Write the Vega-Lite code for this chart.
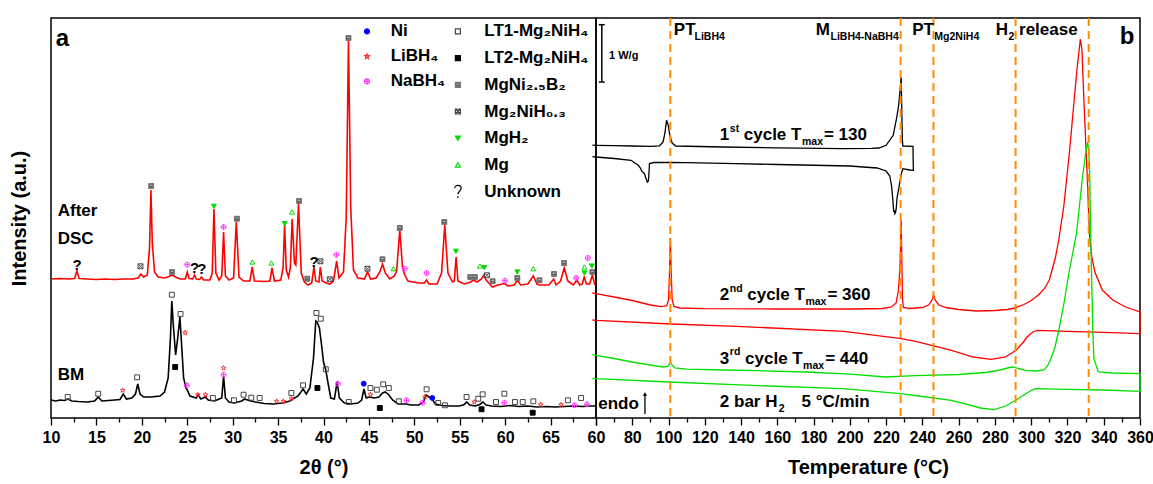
{
"$schema": "https://vega.github.io/schema/vega-lite/v6.json",
"padding": {"left": 8, "top": 16, "right": 0, "bottom": 0},
"background": "white",
"bounds": "flush",
"spacing": 0,
"config": {
 "font": "Liberation Sans",
 "view": {"stroke": "black", "strokeWidth": 1.5},
 "axis": {"grid": false, "domain": false, "labelFont": "Liberation Sans", "labelFontSize": 16, "labelFontWeight": "bold", "labelColor": "black", "labelFlush": false, "labelOverlap": false, "labelBound": false, "titleFont": "Liberation Sans", "titleFontSize": 20, "titleFontWeight": "bold", "titleColor": "black", "tickColor": "black", "tickWidth": 1.3, "tickSize": 7, "labelPadding": 4, "titlePadding": 12},
 "legend": {"padding": 0, "labelFont": "Liberation Sans", "labelFontSize": 17, "labelFontWeight": "bold", "labelColor": "black", "symbolSize": 25, "symbolStrokeWidth": 1.2}
},
"datasets": {
 "xrdA": [
{"t":10,"v":139},{"t":11,"v":139.5},{"t":12,"v":139},{"t":12.6,"v":139.5},{"t":12.85,"v":147},{"t":13.1,"v":139.5},{"t":14,"v":139},{"t":15,"v":138.5},{"t":16,"v":139},{"t":17,"v":138.5},{"t":18,"v":139},{"t":19,"v":139},{"t":19.6,"v":140},{"t":19.9,"v":144},{"t":20.2,"v":141},{"t":20.6,"v":143},{"t":20.85,"v":170},{"t":21.0,"v":228},{"t":21.15,"v":175},{"t":21.4,"v":146},{"t":21.8,"v":141},{"t":22.5,"v":140},{"t":23.0,"v":141.5},{"t":23.35,"v":143},{"t":23.7,"v":141},{"t":24.2,"v":139},{"t":24.8,"v":139},{"t":25.0,"v":146},{"t":25.2,"v":139.5},{"t":25.6,"v":139},{"t":25.8,"v":143},{"t":26.0,"v":139},{"t":26.35,"v":138.5},{"t":26.55,"v":141},{"t":26.8,"v":138},{"t":27.5,"v":138},{"t":27.75,"v":145},{"t":27.94,"v":209},{"t":28.15,"v":145},{"t":28.5,"v":138},{"t":28.8,"v":142},{"t":29.0,"v":186},{"t":29.2,"v":142},{"t":29.6,"v":138},{"t":30.1,"v":140},{"t":30.4,"v":196},{"t":30.7,"v":141},{"t":31.2,"v":137},{"t":31.9,"v":137},{"t":32.15,"v":151},{"t":32.4,"v":137},{"t":33.5,"v":136.5},{"t":34.1,"v":137},{"t":34.33,"v":150},{"t":34.6,"v":137},{"t":35.3,"v":138},{"t":35.55,"v":150},{"t":35.72,"v":193},{"t":35.9,"v":148},{"t":36.15,"v":141},{"t":36.35,"v":150},{"t":36.55,"v":199},{"t":36.8,"v":155},{"t":36.95,"v":153},{"t":37.25,"v":214},{"t":37.55,"v":145},{"t":37.9,"v":136},{"t":38.3,"v":133},{"t":38.7,"v":135},{"t":38.95,"v":151},{"t":39.15,"v":137},{"t":39.5,"v":136},{"t":39.65,"v":151},{"t":39.85,"v":137},{"t":40.3,"v":135},{"t":40.7,"v":134},{"t":41.1,"v":137},{"t":41.45,"v":157},{"t":41.7,"v":140},{"t":42.2,"v":146},{"t":42.5,"v":200},{"t":42.75,"v":377},{"t":43.0,"v":210},{"t":43.3,"v":148},{"t":43.8,"v":140},{"t":44.5,"v":139},{"t":44.85,"v":146},{"t":45.2,"v":139},{"t":45.8,"v":140},{"t":46.2,"v":146},{"t":46.5,"v":154},{"t":46.8,"v":145},{"t":47.3,"v":139},{"t":47.8,"v":142},{"t":48.05,"v":147},{"t":48.4,"v":188},{"t":48.7,"v":150},{"t":48.95,"v":143},{"t":49.3,"v":137},{"t":50.5,"v":135},{"t":51.1,"v":135},{"t":51.35,"v":138},{"t":51.6,"v":134},{"t":52.5,"v":134},{"t":53.0,"v":145},{"t":53.35,"v":193},{"t":53.7,"v":145},{"t":54.2,"v":136},{"t":54.4,"v":137},{"t":54.6,"v":161},{"t":54.8,"v":137},{"t":55.5,"v":134},{"t":56.2,"v":136},{"t":56.5,"v":138},{"t":56.9,"v":136},{"t":57.4,"v":139},{"t":57.66,"v":143},{"t":57.9,"v":138},{"t":58.3,"v":134},{"t":58.6,"v":131},{"t":59.2,"v":133},{"t":59.95,"v":134.5},{"t":60.3,"v":132},{"t":61.0,"v":133},{"t":61.35,"v":138},{"t":61.7,"v":133},{"t":62.5,"v":134},{"t":63.1,"v":142},{"t":63.5,"v":134},{"t":63.8,"v":133},{"t":64.8,"v":133},{"t":65.35,"v":139},{"t":65.6,"v":133},{"t":66.1,"v":137},{"t":66.5,"v":150},{"t":66.9,"v":137},{"t":67.5,"v":133},{"t":67.9,"v":138},{"t":68.2,"v":133},{"t":68.5,"v":134},{"t":68.7,"v":141},{"t":68.95,"v":134},{"t":69.3,"v":134},{"t":69.6,"v":143},{"t":69.85,"v":134},{"t":70,"v":133}
 ],
 "xrdB": [
{"t":10,"v":18},{"t":10.5,"v":17},{"t":11,"v":18},{"t":11.5,"v":17.5},{"t":11.85,"v":19},{"t":12.3,"v":17},{"t":13,"v":16.5},{"t":14,"v":16},{"t":14.8,"v":17},{"t":15.2,"v":21},{"t":15.6,"v":17},{"t":16.3,"v":17.5},{"t":17,"v":18},{"t":17.6,"v":18.5},{"t":17.95,"v":24},{"t":18.3,"v":19},{"t":18.9,"v":20},{"t":19.3,"v":24},{"t":19.55,"v":34},{"t":19.8,"v":24},{"t":20.2,"v":21},{"t":21,"v":21},{"t":22,"v":22},{"t":22.5,"v":26},{"t":22.9,"v":40},{"t":23.15,"v":80},{"t":23.3,"v":117},{"t":23.45,"v":95},{"t":23.72,"v":63},{"t":23.95,"v":80},{"t":24.19,"v":101},{"t":24.4,"v":70},{"t":24.6,"v":40},{"t":24.85,"v":30},{"t":25.0,"v":28},{"t":25.3,"v":22},{"t":26.0,"v":20},{"t":26.2,"v":23},{"t":26.5,"v":19},{"t":27.0,"v":21},{"t":27.3,"v":18},{"t":28,"v":17},{"t":28.8,"v":20},{"t":29.0,"v":42},{"t":29.2,"v":20},{"t":29.6,"v":16},{"t":30.2,"v":15},{"t":31,"v":17},{"t":31.3,"v":19},{"t":31.8,"v":17.5},{"t":32.5,"v":16},{"t":33.5,"v":14.5},{"t":34.5,"v":14},{"t":35.5,"v":15},{"t":36.3,"v":17},{"t":36.6,"v":19},{"t":37.2,"v":22},{"t":37.75,"v":29},{"t":38.1,"v":24},{"t":38.5,"v":30},{"t":38.9,"v":60},{"t":39.15,"v":97},{"t":39.3,"v":96},{"t":39.55,"v":90},{"t":39.8,"v":72},{"t":40.0,"v":56},{"t":40.25,"v":48},{"t":40.5,"v":35},{"t":40.8,"v":20},{"t":41.2,"v":19},{"t":41.5,"v":36},{"t":41.75,"v":20},{"t":42.3,"v":15},{"t":43,"v":14},{"t":43.8,"v":15},{"t":44.2,"v":18},{"t":44.45,"v":29},{"t":44.7,"v":20},{"t":45.0,"v":21},{"t":45.6,"v":20},{"t":46.1,"v":21},{"t":46.5,"v":25},{"t":46.8,"v":26},{"t":47.2,"v":23},{"t":47.6,"v":18},{"t":48.2,"v":14},{"t":49.1,"v":14},{"t":49.6,"v":13},{"t":50.5,"v":13},{"t":51.0,"v":16},{"t":51.3,"v":23},{"t":51.6,"v":21},{"t":51.9,"v":20},{"t":52.3,"v":14},{"t":53,"v":12.5},{"t":54,"v":12},{"t":55,"v":12},{"t":55.5,"v":13.5},{"t":55.75,"v":16},{"t":56.1,"v":13},{"t":56.7,"v":12},{"t":57.2,"v":13.5},{"t":57.55,"v":16},{"t":57.9,"v":13},{"t":58.5,"v":12},{"t":59.5,"v":11.5},{"t":60.5,"v":12.5},{"t":61.5,"v":11.5},{"t":62.5,"v":12},{"t":63.5,"v":11},{"t":64.5,"v":11.5},{"t":65.5,"v":11},{"t":66.5,"v":11.5},{"t":67.5,"v":12},{"t":68.5,"v":11.5},{"t":69.5,"v":12},{"t":70,"v":12}
 ],
 "marks": [
{"t":12.87,"v":153.3,"p":"Unknown"},{"t":25.8,"v":150.3,"p":"Unknown"},{"t":26.6,"v":148.7,"p":"Unknown"},{"t":38.96,"v":156,"p":"Unknown"},
{"t":19.85,"v":151.7,"p":"Mg₂NiH₀.₃"},{"t":39.66,"v":156.7,"p":"Mg₂NiH₀.₃"},{"t":40.69,"v":138.7,"p":"Mg₂NiH₀.₃"},{"t":44.84,"v":149.3,"p":"Mg₂NiH₀.₃"},{"t":57.99,"v":142.7,"p":"Mg₂NiH₀.₃"},
{"t":21.03,"v":232,"p":"MgNi₂.₅B₂"},{"t":23.34,"v":146,"p":"MgNi₂.₅B₂"},{"t":30.47,"v":199.3,"p":"MgNi₂.₅B₂"},{"t":37.31,"v":217,"p":"MgNi₂.₅B₂"},{"t":38.22,"v":139.3,"p":"MgNi₂.₅B₂"},{"t":42.75,"v":380,"p":"MgNi₂.₅B₂"},{"t":46.49,"v":158.7,"p":"MgNi₂.₅B₂"},{"t":48.4,"v":190,"p":"MgNi₂.₅B₂"},{"t":53.3,"v":196,"p":"MgNi₂.₅B₂"},{"t":56.16,"v":141,"p":"MgNi₂.₅B₂"},{"t":56.67,"v":141,"p":"MgNi₂.₅B₂"},{"t":58.62,"v":136.7,"p":"MgNi₂.₅B₂"},{"t":61.34,"v":140,"p":"MgNi₂.₅B₂"},{"t":63.77,"v":137.7,"p":"MgNi₂.₅B₂"},{"t":65.38,"v":144,"p":"MgNi₂.₅B₂"},{"t":66.49,"v":155,"p":"MgNi₂.₅B₂"},{"t":69.6,"v":146,"p":"MgNi₂.₅B₂"},
{"t":25.0,"v":153.3,"p":"NaBH₄"},{"t":29.0,"v":191,"p":"NaBH₄"},{"t":41.42,"v":163.3,"p":"NaBH₄"},{"t":48.95,"v":149.3,"p":"NaBH₄"},{"t":51.35,"v":145,"p":"NaBH₄"},{"t":59.98,"v":137.3,"p":"NaBH₄"},{"t":67.81,"v":140,"p":"NaBH₄"},{"t":69.1,"v":160,"p":"NaBH₄"},
{"t":27.94,"v":211.7,"p":"MgH₂"},{"t":35.73,"v":194.3,"p":"MgH₂"},{"t":54.58,"v":166.7,"p":"MgH₂"},{"t":57.7,"v":150.3,"p":"MgH₂"},{"t":61.34,"v":146,"p":"MgH₂"},{"t":68.73,"v":145,"p":"MgH₂"},{"t":69.54,"v":152,"p":"MgH₂"},
{"t":32.16,"v":156,"p":"Mg"},{"t":34.26,"v":155,"p":"Mg"},{"t":36.54,"v":206,"p":"Mg"},{"t":47.71,"v":149.3,"p":"Mg"},{"t":57.22,"v":152,"p":"Mg"},{"t":63.1,"v":149.3,"p":"Mg"},{"t":68.73,"v":151,"p":"Mg"},
{"t":11.84,"v":21,"p":"LT1-Mg₂NiH₄"},{"t":15.2,"v":24.3,"p":"LT1-Mg₂NiH₄"},{"t":19.48,"v":40.7,"p":"LT1-Mg₂NiH₄"},{"t":23.3,"v":123.3,"p":"LT1-Mg₂NiH₄"},{"t":24.26,"v":104,"p":"LT1-Mg₂NiH₄"},{"t":27.83,"v":20,"p":"LT1-Mg₂NiH₄"},{"t":30.14,"v":17.7,"p":"LT1-Mg₂NiH₄"},{"t":31.2,"v":23.3,"p":"LT1-Mg₂NiH₄"},{"t":32.05,"v":20.3,"p":"LT1-Mg₂NiH₄"},{"t":32.97,"v":20,"p":"LT1-Mg₂NiH₄"},{"t":36.46,"v":25,"p":"LT1-Mg₂NiH₄"},{"t":37.75,"v":32.7,"p":"LT1-Mg₂NiH₄"},{"t":39.22,"v":105,"p":"LT1-Mg₂NiH₄"},{"t":39.7,"v":99.3,"p":"LT1-Mg₂NiH₄"},{"t":40.25,"v":48.7,"p":"LT1-Mg₂NiH₄"},{"t":42.78,"v":16,"p":"LT1-Mg₂NiH₄"},{"t":45.17,"v":30,"p":"LT1-Mg₂NiH₄"},{"t":45.87,"v":28.3,"p":"LT1-Mg₂NiH₄"},{"t":46.57,"v":33.7,"p":"LT1-Mg₂NiH₄"},{"t":47.19,"v":30,"p":"LT1-Mg₂NiH₄"},{"t":48.29,"v":16.7,"p":"LT1-Mg₂NiH₄"},{"t":51.35,"v":28.7,"p":"LT1-Mg₂NiH₄"},{"t":52.63,"v":15,"p":"LT1-Mg₂NiH₄"},{"t":53.37,"v":12.7,"p":"LT1-Mg₂NiH₄"},{"t":55.75,"v":21,"p":"LT1-Mg₂NiH₄"},{"t":57.04,"v":19.3,"p":"LT1-Mg₂NiH₄"},{"t":57.52,"v":23.7,"p":"LT1-Mg₂NiH₄"},{"t":58.99,"v":16,"p":"LT1-Mg₂NiH₄"},{"t":59.91,"v":24.3,"p":"LT1-Mg₂NiH₄"},{"t":61.08,"v":16,"p":"LT1-Mg₂NiH₄"},{"t":61.93,"v":16,"p":"LT1-Mg₂NiH₄"},{"t":63.1,"v":16.7,"p":"LT1-Mg₂NiH₄"},{"t":66.9,"v":17.7,"p":"LT1-Mg₂NiH₄"},{"t":68.36,"v":20,"p":"LT1-Mg₂NiH₄"},
{"t":17.9,"v":27.7,"p":"LiBH₄"},{"t":24.77,"v":85.3,"p":"LiBH₄"},{"t":26.17,"v":23.3,"p":"LiBH₄"},{"t":27.0,"v":23.3,"p":"LiBH₄"},{"t":29.0,"v":50,"p":"LiBH₄"},{"t":34.84,"v":16.7,"p":"LiBH₄"},{"t":35.58,"v":16.7,"p":"LiBH₄"},{"t":36.46,"v":19.3,"p":"LiBH₄"},{"t":45.17,"v":23.3,"p":"LiBH₄"},{"t":51.16,"v":21,"p":"LiBH₄"},{"t":56.6,"v":16,"p":"LiBH₄"},{"t":63.92,"v":13.3,"p":"LiBH₄"},{"t":66.16,"v":13.3,"p":"LiBH₄"},
{"t":23.67,"v":51,"p":"LT2-Mg₂NiH₄"},{"t":39.33,"v":30,"p":"LT2-Mg₂NiH₄"},{"t":46.2,"v":10,"p":"LT2-Mg₂NiH₄"},{"t":57.4,"v":8.7,"p":"LT2-Mg₂NiH₄"},{"t":63.03,"v":5.3,"p":"LT2-Mg₂NiH₄"},
{"t":24.96,"v":32.7,"p":"NaBH₄"},{"t":29.0,"v":43.3,"p":"NaBH₄"},{"t":41.6,"v":34.3,"p":"NaBH₄"},{"t":49.14,"v":17.7,"p":"NaBH₄"},{"t":50.9,"v":15.3,"p":"NaBH₄"},{"t":59.91,"v":15.3,"p":"NaBH₄"},{"t":67.63,"v":12.7,"p":"NaBH₄"},{"t":69.02,"v":13.7,"p":"NaBH₄"},
{"t":44.43,"v":34.3,"p":"Ni"},{"t":51.97,"v":20,"p":"Ni"}
 ],
 "ltext": [
{"t":10.53,"v":379.3,"txt":"a","k":"big"},
{"t":10.74,"v":206.7,"txt":"After","k":"main"},
{"t":10.74,"v":179.3,"txt":"DSC","k":"main"},
{"t":10.74,"v":42.7,"txt":"BM","k":"main"}
 ],
 "dsc": [
{"s":"c1","i":0,"T":58,"v":272.8},{"s":"c1","i":1,"T":60,"v":272.7},{"s":"c1","i":2,"T":70,"v":272.3},{"s":"c1","i":3,"T":80,"v":272},{"s":"c1","i":4,"T":90,"v":271.6},{"s":"c1","i":5,"T":95,"v":272.2},{"s":"c1","i":6,"T":97,"v":276},{"s":"c1","i":7,"T":98,"v":285},{"s":"c1","i":8,"T":98.9,"v":297.7},{"s":"c1","i":9,"T":99.8,"v":293},{"s":"c1","i":10,"T":100.8,"v":282},{"s":"c1","i":11,"T":102,"v":275},{"s":"c1","i":12,"T":104,"v":272},{"s":"c1","i":13,"T":130,"v":271},{"s":"c1","i":14,"T":160,"v":270.2},{"s":"c1","i":15,"T":196,"v":269.3},{"s":"c1","i":16,"T":212,"v":269.6},{"s":"c1","i":17,"T":216,"v":270},{"s":"c1","i":18,"T":220,"v":272.7},{"s":"c1","i":19,"T":223.9,"v":282.7},{"s":"c1","i":20,"T":225.9,"v":301},{"s":"c1","i":21,"T":226.9,"v":312.7},{"s":"c1","i":22,"T":227.8,"v":330},{"s":"c1","i":23,"T":228.3,"v":341},{"s":"c1","i":24,"T":228.6,"v":310},{"s":"c1","i":25,"T":228.9,"v":280},{"s":"c1","i":26,"T":229.2,"v":272},{"s":"c1","i":27,"T":234.8,"v":271.7},{"s":"c1","i":28,"T":235,"v":247.7},{"s":"c1","i":29,"T":233,"v":248},{"s":"c1","i":30,"T":229.3,"v":249.3},{"s":"c1","i":31,"T":228.6,"v":246},{"s":"c1","i":32,"T":226.8,"v":228},{"s":"c1","i":33,"T":226,"v":220},{"s":"c1","i":34,"T":225.6,"v":210},{"s":"c1","i":35,"T":225.2,"v":205.5},{"s":"c1","i":36,"T":224.8,"v":204.3},{"s":"c1","i":37,"T":224.5,"v":208},{"s":"c1","i":38,"T":224.2,"v":206},{"s":"c1","i":39,"T":223.7,"v":218},{"s":"c1","i":40,"T":223,"v":232},{"s":"c1","i":41,"T":222,"v":242},{"s":"c1","i":42,"T":220,"v":247},{"s":"c1","i":43,"T":215,"v":250},{"s":"c1","i":44,"T":200,"v":252},{"s":"c1","i":45,"T":160,"v":253.5},{"s":"c1","i":46,"T":137,"v":254.3},{"s":"c1","i":47,"T":110,"v":255.3},{"s":"c1","i":48,"T":100,"v":255.7},{"s":"c1","i":49,"T":92,"v":255.5},{"s":"c1","i":50,"T":89.5,"v":254.5},{"s":"c1","i":51,"T":89.2,"v":245},{"s":"c1","i":52,"T":88.9,"v":237},{"s":"c1","i":53,"T":88.3,"v":236},{"s":"c1","i":54,"T":87.5,"v":240},{"s":"c1","i":55,"T":86.8,"v":244},{"s":"c1","i":56,"T":86.2,"v":245.5},{"s":"c1","i":57,"T":85.3,"v":246.5},{"s":"c1","i":58,"T":84.5,"v":250},{"s":"c1","i":59,"T":83.3,"v":252.7},{"s":"c1","i":60,"T":79.3,"v":257.7},{"s":"c1","i":61,"T":70,"v":259.5},{"s":"c1","i":62,"T":60,"v":261},{"s":"c1","i":63,"T":58,"v":261.3},
{"s":"c2","i":0,"T":58,"v":125},{"s":"c2","i":1,"T":60,"v":124.3},{"s":"c2","i":2,"T":70,"v":121},{"s":"c2","i":3,"T":80,"v":117.5},{"s":"c2","i":4,"T":90,"v":113},{"s":"c2","i":5,"T":96,"v":111.3},{"s":"c2","i":6,"T":99,"v":112},{"s":"c2","i":7,"T":100,"v":118},{"s":"c2","i":8,"T":100.6,"v":150},{"s":"c2","i":9,"T":101,"v":180},{"s":"c2","i":10,"T":101.4,"v":150},{"s":"c2","i":11,"T":102,"v":118},{"s":"c2","i":12,"T":103,"v":111.5},{"s":"c2","i":13,"T":106,"v":110},{"s":"c2","i":14,"T":120,"v":109.3},{"s":"c2","i":15,"T":160,"v":109},{"s":"c2","i":16,"T":200,"v":109},{"s":"c2","i":17,"T":218,"v":109.5},{"s":"c2","i":18,"T":223,"v":111},{"s":"c2","i":19,"T":225.5,"v":115},{"s":"c2","i":20,"T":226.8,"v":128},{"s":"c2","i":21,"T":227.6,"v":150},{"s":"c2","i":22,"T":228,"v":175},{"s":"c2","i":23,"T":228.3,"v":198},{"s":"c2","i":24,"T":228.6,"v":165},{"s":"c2","i":25,"T":229,"v":120},{"s":"c2","i":26,"T":229.5,"v":110.5},{"s":"c2","i":27,"T":233,"v":109.5},{"s":"c2","i":28,"T":240,"v":110.5},{"s":"c2","i":29,"T":243.5,"v":113},{"s":"c2","i":30,"T":245.3,"v":118},{"s":"c2","i":31,"T":246.1,"v":123.5},{"s":"c2","i":32,"T":247,"v":118},{"s":"c2","i":33,"T":249,"v":113},{"s":"c2","i":34,"T":253,"v":110.5},{"s":"c2","i":35,"T":260,"v":108.5},{"s":"c2","i":36,"T":270,"v":107},{"s":"c2","i":37,"T":280,"v":107.5},{"s":"c2","i":38,"T":287,"v":108.5},{"s":"c2","i":39,"T":291,"v":110},{"s":"c2","i":40,"T":296,"v":113.5},{"s":"c2","i":41,"T":300,"v":117.5},{"s":"c2","i":42,"T":304,"v":123},{"s":"c2","i":43,"T":307.3,"v":129.3},{"s":"c2","i":44,"T":310,"v":138},{"s":"c2","i":45,"T":313.3,"v":160},{"s":"c2","i":46,"T":315.2,"v":178},{"s":"c2","i":47,"T":318,"v":212},{"s":"c2","i":48,"T":321.1,"v":266},{"s":"c2","i":49,"T":325.1,"v":346},{"s":"c2","i":50,"T":327.1,"v":379},{"s":"c2","i":51,"T":328,"v":368},{"s":"c2","i":52,"T":329.1,"v":316},{"s":"c2","i":53,"T":330.7,"v":250},{"s":"c2","i":54,"T":332.2,"v":182},{"s":"c2","i":55,"T":333.5,"v":160},{"s":"c2","i":56,"T":335.1,"v":146},{"s":"c2","i":57,"T":339.2,"v":128},{"s":"c2","i":58,"T":345,"v":118},{"s":"c2","i":59,"T":352,"v":111},{"s":"c2","i":60,"T":360,"v":106},{"s":"c2","i":61,"T":360,"v":84.3},{"s":"c2","i":62,"T":340,"v":85.6},{"s":"c2","i":63,"T":320,"v":86.7},{"s":"c2","i":64,"T":303.7,"v":87.7},{"s":"c2","i":65,"T":301.5,"v":86.5},{"s":"c2","i":66,"T":299.7,"v":84.3},{"s":"c2","i":67,"T":297.5,"v":80.5},{"s":"c2","i":68,"T":295.7,"v":76},{"s":"c2","i":69,"T":291.7,"v":67.7},{"s":"c2","i":70,"T":285.8,"v":61},{"s":"c2","i":71,"T":277.9,"v":58.7},{"s":"c2","i":72,"T":268,"v":61},{"s":"c2","i":73,"T":256.1,"v":67.7},{"s":"c2","i":74,"T":236.3,"v":76.7},{"s":"c2","i":75,"T":228.4,"v":79.3},{"s":"c2","i":76,"T":196.7,"v":86.7},{"s":"c2","i":77,"T":137.3,"v":91.7},{"s":"c2","i":78,"T":101.6,"v":94},{"s":"c2","i":79,"T":60,"v":97.7},{"s":"c2","i":80,"T":58,"v":98},
{"s":"c3","i":0,"T":58,"v":63.4},{"s":"c3","i":1,"T":60,"v":62.7},{"s":"c3","i":2,"T":70,"v":59.5},{"s":"c3","i":3,"T":80,"v":56},{"s":"c3","i":4,"T":90,"v":53},{"s":"c3","i":5,"T":97,"v":51},{"s":"c3","i":6,"T":99.5,"v":51.5},{"s":"c3","i":7,"T":100.5,"v":54},{"s":"c3","i":8,"T":101.2,"v":55.5},{"s":"c3","i":9,"T":102,"v":53},{"s":"c3","i":10,"T":103.5,"v":50},{"s":"c3","i":11,"T":110,"v":48.8},{"s":"c3","i":12,"T":130,"v":48},{"s":"c3","i":13,"T":150,"v":47.3},{"s":"c3","i":14,"T":176,"v":46},{"s":"c3","i":15,"T":200,"v":43.8},{"s":"c3","i":16,"T":219.9,"v":41},{"s":"c3","i":17,"T":236,"v":42.3},{"s":"c3","i":18,"T":260,"v":43.5},{"s":"c3","i":19,"T":275,"v":45.5},{"s":"c3","i":20,"T":283,"v":48},{"s":"c3","i":21,"T":288,"v":50.5},{"s":"c3","i":22,"T":290.2,"v":51},{"s":"c3","i":23,"T":293,"v":49.5},{"s":"c3","i":24,"T":297,"v":47.7},{"s":"c3","i":25,"T":303,"v":47},{"s":"c3","i":26,"T":307,"v":48},{"s":"c3","i":27,"T":309,"v":52},{"s":"c3","i":28,"T":311,"v":60},{"s":"c3","i":29,"T":313,"v":70},{"s":"c3","i":30,"T":315,"v":86},{"s":"c3","i":31,"T":318,"v":114},{"s":"c3","i":32,"T":320.9,"v":146},{"s":"c3","i":33,"T":325,"v":185},{"s":"c3","i":34,"T":328.2,"v":239},{"s":"c3","i":35,"T":330,"v":264},{"s":"c3","i":36,"T":331.1,"v":276},{"s":"c3","i":37,"T":331.7,"v":268},{"s":"c3","i":38,"T":332.2,"v":249},{"s":"c3","i":39,"T":333,"v":166},{"s":"c3","i":40,"T":334,"v":86},{"s":"c3","i":41,"T":334.6,"v":59.3},{"s":"c3","i":42,"T":337,"v":46},{"s":"c3","i":43,"T":345,"v":45},{"s":"c3","i":44,"T":360,"v":44.3},{"s":"c3","i":45,"T":360,"v":26.7},{"s":"c3","i":46,"T":340,"v":28},{"s":"c3","i":47,"T":320,"v":28.7},{"s":"c3","i":48,"T":302,"v":29.3},{"s":"c3","i":49,"T":299.5,"v":27},{"s":"c3","i":50,"T":296,"v":23},{"s":"c3","i":51,"T":291.4,"v":17.7},{"s":"c3","i":52,"T":286,"v":12},{"s":"c3","i":53,"T":279.5,"v":8.3},{"s":"c3","i":54,"T":272,"v":10},{"s":"c3","i":55,"T":266,"v":13},{"s":"c3","i":56,"T":256,"v":17.7},{"s":"c3","i":57,"T":240,"v":21.5},{"s":"c3","i":58,"T":228,"v":24.3},{"s":"c3","i":59,"T":196,"v":29.3},{"s":"c3","i":60,"T":136,"v":33.3},{"s":"c3","i":61,"T":100,"v":36},{"s":"c3","i":62,"T":60,"v":39.3},{"s":"c3","i":63,"T":58,"v":39.6}
 ],
 "dash": [{"T":101},{"T":228},{"T":246.1},{"T":291.4},{"T":331.7}],
 "bar": [{"T":63.2,"T2":63.2,"v":336,"v2":393.3},{"T":61.6,"T2":64.8,"v":336,"v2":336},{"T":61.6,"T2":64.8,"v":393.3,"v2":393.3}],
 "arrow": [{"T":87,"v":4,"v2":24}],
 "rtext": [
{"T":348.9,"v":381,"txt":"b","k":"big"},
{"T":67.2,"v":361.7,"txt":"1 W/g","k":"small"},
{"T":102.9,"v":387.7,"txt":"PT","k":"main"},
{"T":181.2,"v":387.7,"txt":"M","k":"main"},
{"T":234.4,"v":387.7,"txt":"PT","k":"main"},
{"T":280.5,"v":387.7,"txt":"H","k":"main"},
{"T":293.3,"v":387.7,"txt":"release","k":"main"},
{"T":128.3,"v":282.7,"txt":"1","k":"main"},
{"T":141.5,"v":282.7,"txt":"cycle T","k":"main"},
{"T":185.7,"v":282.7,"txt":"= 130","k":"main"},
{"T":128.3,"v":122.7,"txt":"2","k":"main"},
{"T":143.4,"v":122.7,"txt":"cycle T","k":"main"},
{"T":187.6,"v":122.7,"txt":"= 360","k":"main"},
{"T":128.3,"v":59.3,"txt":"3","k":"main"},
{"T":142.2,"v":59.3,"txt":"cycle T","k":"main"},
{"T":186.4,"v":59.3,"txt":"= 440","k":"main"},
{"T":128.3,"v":16,"txt":"2 bar H","k":"main"},
{"T":173.3,"v":16,"txt":"5 °C/min","k":"main"},
{"T":61.2,"v":14.3,"txt":"endo","k":"main"},
{"T":114.3,"v":380.7,"txt":"LiBH4","k":"sub"},
{"T":189.3,"v":380.7,"txt":"LiBH4-NaBH4","k":"sub"},
{"T":246.6,"v":380.7,"txt":"Mg2NiH4","k":"sub"},
{"T":287.5,"v":380.7,"txt":"2","k":"sub"},
{"T":133.8,"v":289.5,"txt":"st","k":"sub"},
{"T":173.6,"v":276,"txt":"max","k":"sub"},
{"T":133.8,"v":129.5,"txt":"nd","k":"sub"},
{"T":175.5,"v":116,"txt":"max","k":"sub"},
{"T":133.8,"v":66,"txt":"rd","k":"sub"},
{"T":174.2,"v":52.5,"txt":"max","k":"sub"},
{"T":160.8,"v":9.5,"txt":"2","k":"sub"}
 ]
},
"hconcat": [
 {
  "width": 545, "height": 400,
  "encoding": {
   "x": {"field": "t", "type": "quantitative", "scale": {"domain": [10, 70], "nice": false, "zero": false},
         "axis": {"title": "2θ (°)", "values": [10,12.5,15,17.5,20,22.5,25,27.5,30,32.5,35,37.5,40,42.5,45,47.5,50,52.5,55,57.5,60,62.5,65,67.5,70],
                  "labelExpr": "datum.value % 5 === 0 && datum.value < 70 ? datum.label : ''",
                  "labelFlush": false, "labelOverlap": false, "labelBound": false,
                  "tickSize": {"condition": {"test": "datum.value % 5 === 0", "value": 7}, "value": 4}}},
   "y": {"field": "v", "type": "quantitative", "scale": {"domain": [0, 400], "nice": false, "zero": false},
         "axis": {"title": "Intensity (a.u.)", "labels": false, "ticks": false, "titlePadding": 22}}
  },
  "layer": [
   {"data": {"name": "xrdA"}, "mark": {"type": "line", "color": "#FF0000", "strokeWidth": 1.6}},
   {"data": {"name": "xrdB"}, "mark": {"type": "line", "color": "#000000", "strokeWidth": 1.6}},
   {"data": {"name": "marks"},
    "transform": [{"filter": {"field": "p", "oneOf": ["Ni", "LiBH₄", "NaBH₄"]}}],
    "mark": {"type": "point", "size": 24, "strokeWidth": 1, "opacity": 1},
    "encoding": {
     "shape": {"field": "p", "type": "nominal", "scale": {"domain": ["Ni", "LiBH₄", "NaBH₄"], "range": ["circle", "M0,-1L0.235,-0.324L0.951,-0.309L0.38,0.124L0.588,0.809L0,0.4L-0.588,0.809L-0.38,0.124L-0.951,-0.309L-0.235,-0.324Z", "M-1,0A1,1,0,1,1,1,0A1,1,0,1,1,-1,0ZM-1,0L1,0M0,-1L0,1"]},
               "legend": {"title": null, "orient": "none", "legendX": 307.5, "legendY": 4.9, "rowPadding": 7.0, "labelOffset": 15.2}},
     "fill": {"field": "p", "type": "nominal", "scale": {"domain": ["Ni", "LiBH₄", "NaBH₄"], "range": ["#0000FF", "transparent", "transparent"]},
              "legend": {"title": null, "orient": "none", "legendX": 307.5, "legendY": 4.9, "rowPadding": 7.0, "labelOffset": 15.2}},
     "stroke": {"field": "p", "type": "nominal", "scale": {"domain": ["Ni", "LiBH₄", "NaBH₄"], "range": ["#0000FF", "#FF3030", "#FF33FF"]},
                "legend": {"title": null, "orient": "none", "legendX": 307.5, "legendY": 4.9, "rowPadding": 7.0, "labelOffset": 15.2}}
    }},
   {"data": {"name": "marks"},
    "transform": [{"filter": "datum.p !== 'Unknown' && datum.p !== 'Ni' && datum.p !== 'LiBH₄' && datum.p !== 'NaBH₄'"}],
    "mark": {"type": "point", "size": 24, "strokeWidth": 1, "opacity": 1},
    "encoding": {
     "shape": {"field": "p", "type": "nominal", "scale": {"domain": ["LT1-Mg₂NiH₄", "LT2-Mg₂NiH₄", "MgNi₂.₅B₂", "Mg₂NiH₀.₃", "MgH₂", "Mg", "Unknown"], "range": ["square", "square", "M-1,-1L1,-1L1,1L-1,1ZM-0.6,-0.6L-0.6,0.6L0.6,0.6L0.6,-0.6ZM-0.6,0L0.6,0L0.6,0.6L-0.6,0.6Z", "M-1,-1L1,-1L1,1L-1,1ZM-1,-1L1,1M1,-1L-1,1", "triangle-down", "triangle-up", "M-1.3,-1.3C-1.3,-2.9 1.3,-2.9 1.3,-1.3C1.3,-0.2 0,-0.1 0,1.1M0,1.9L0,2.6"]},
               "legend": {"title": null, "orient": "none", "legendX": 398.4, "legendY": 4.9, "rowPadding": 8.7, "labelOffset": 17.9}},
     "fill": {"field": "p", "type": "nominal", "scale": {"domain": ["LT1-Mg₂NiH₄", "LT2-Mg₂NiH₄", "MgNi₂.₅B₂", "Mg₂NiH₀.₃", "MgH₂", "Mg", "Unknown"], "range": ["transparent", "#000000", "#222222", "transparent", "#00DD00", "transparent", "transparent"]},
              "legend": {"title": null, "orient": "none", "legendX": 398.4, "legendY": 4.9, "rowPadding": 8.7, "labelOffset": 17.9}},
     "stroke": {"field": "p", "type": "nominal", "scale": {"domain": ["LT1-Mg₂NiH₄", "LT2-Mg₂NiH₄", "MgNi₂.₅B₂", "Mg₂NiH₀.₃", "MgH₂", "Mg", "Unknown"], "range": ["#444444", "#000000", "#777777", "#444444", "#00DD00", "#00DD00", "#000000"]},
                "legend": {"title": null, "orient": "none", "legendX": 398.4, "legendY": 4.9, "rowPadding": 8.7, "labelOffset": 17.9}}
    }},
   {"data": {"name": "marks"},
    "transform": [{"filter": "datum.p === 'Unknown'"}],
    "mark": {"type": "text", "fontSize": 15, "fontWeight": "bold", "font": "Liberation Sans", "color": "black", "align": "center", "baseline": "middle"},
    "encoding": {"text": {"value": "?"}}},
   {"data": {"name": "ltext"},
    "transform": [{"filter": "datum.k === 'main'"}],
    "mark": {"type": "text", "fontSize": 17, "fontWeight": "bold", "font": "Liberation Sans", "color": "black", "align": "left", "baseline": "middle"},
    "encoding": {"text": {"field": "txt"}}},
   {"data": {"name": "ltext"},
    "transform": [{"filter": "datum.k === 'big'"}],
    "mark": {"type": "text", "fontSize": 24, "fontWeight": "bold", "font": "Liberation Sans", "color": "black", "align": "left", "baseline": "middle"},
    "encoding": {"text": {"field": "txt"}}}
  ],
  "resolve": {"scale": {"shape": "independent", "fill": "independent", "stroke": "independent"}}
 },
 {
  "width": 544, "height": 400,
  "encoding": {
   "x": {"field": "T", "type": "quantitative", "scale": {"domain": [60, 360], "nice": false, "zero": false},
         "axis": {"title": "Temperature (°C)", "values": [60,70,80,90,100,110,120,130,140,150,160,170,180,190,200,210,220,230,240,250,260,270,280,290,300,310,320,330,340,350,360],
                  "labelExpr": "datum.value % 20 === 0 ? datum.label : ''",
                  "labelFlush": false, "labelOverlap": false, "labelBound": false,
                  "tickSize": {"condition": {"test": "datum.value % 20 === 0", "value": 7}, "value": 4}}}
  },
  "layer": [
   {"data": {"name": "dsc"}, "mark": {"type": "line", "strokeWidth": 1.3},
    "encoding": {
     "y": {"field": "v", "type": "quantitative", "scale": {"domain": [0, 400], "nice": false, "zero": false}, "axis": null},
     "color": {"field": "s", "type": "nominal", "scale": {"domain": ["c1", "c2", "c3"], "range": ["#000000", "#FF0000", "#00E000"]}, "legend": null},
     "order": {"field": "i", "type": "quantitative"}
    }},
   {"data": {"name": "dash"}, "mark": {"type": "rule", "color": "#FF8C00", "strokeWidth": 2, "strokeDash": [8, 5]}},
   {"data": {"name": "bar"}, "mark": {"type": "rule", "color": "black", "strokeWidth": 1.5},
    "encoding": {
     "x2": {"field": "T2"},
     "y": {"field": "v", "type": "quantitative", "scale": {"domain": [0, 400], "nice": false, "zero": false}, "axis": null},
     "y2": {"field": "v2"}}},
   {"data": {"name": "arrow"}, "mark": {"type": "rule", "color": "black", "strokeWidth": 1.3},
    "encoding": {
     "y": {"field": "v", "type": "quantitative", "scale": {"domain": [0, 400], "nice": false, "zero": false}, "axis": null},
     "y2": {"field": "v2"}}},
   {"data": {"name": "arrow"}, "mark": {"type": "point", "shape": "triangle-up", "filled": true, "color": "black", "size": 18, "opacity": 1},
    "encoding": {
     "y": {"field": "v2", "type": "quantitative", "scale": {"domain": [0, 400], "nice": false, "zero": false}, "axis": null}}},
   {"data": {"name": "rtext"}, "transform": [{"filter": "datum.k === 'main'"}],
    "mark": {"type": "text", "fontSize": 17, "fontWeight": "bold", "font": "Liberation Sans", "color": "black", "align": "left", "baseline": "middle"},
    "encoding": {
     "y": {"field": "v", "type": "quantitative", "scale": {"domain": [0, 400], "nice": false, "zero": false}, "axis": null},
     "text": {"field": "txt"}}},
   {"data": {"name": "rtext"}, "transform": [{"filter": "datum.k === 'sub'"}],
    "mark": {"type": "text", "fontSize": 10.5, "fontWeight": "bold", "font": "Liberation Sans", "color": "black", "align": "left", "baseline": "middle"},
    "encoding": {
     "y": {"field": "v", "type": "quantitative", "scale": {"domain": [0, 400], "nice": false, "zero": false}, "axis": null},
     "text": {"field": "txt"}}},
   {"data": {"name": "rtext"}, "transform": [{"filter": "datum.k === 'small'"}],
    "mark": {"type": "text", "fontSize": 11, "fontWeight": "bold", "font": "Liberation Sans", "color": "black", "align": "left", "baseline": "middle"},
    "encoding": {
     "y": {"field": "v", "type": "quantitative", "scale": {"domain": [0, 400], "nice": false, "zero": false}, "axis": null},
     "text": {"field": "txt"}}},
   {"data": {"name": "rtext"}, "transform": [{"filter": "datum.k === 'big'"}],
    "mark": {"type": "text", "fontSize": 24, "fontWeight": "bold", "font": "Liberation Sans", "color": "black", "align": "left", "baseline": "middle"},
    "encoding": {
     "y": {"field": "v", "type": "quantitative", "scale": {"domain": [0, 400], "nice": false, "zero": false}, "axis": null},
     "text": {"field": "txt"}}}
  ]
 }
]
}
